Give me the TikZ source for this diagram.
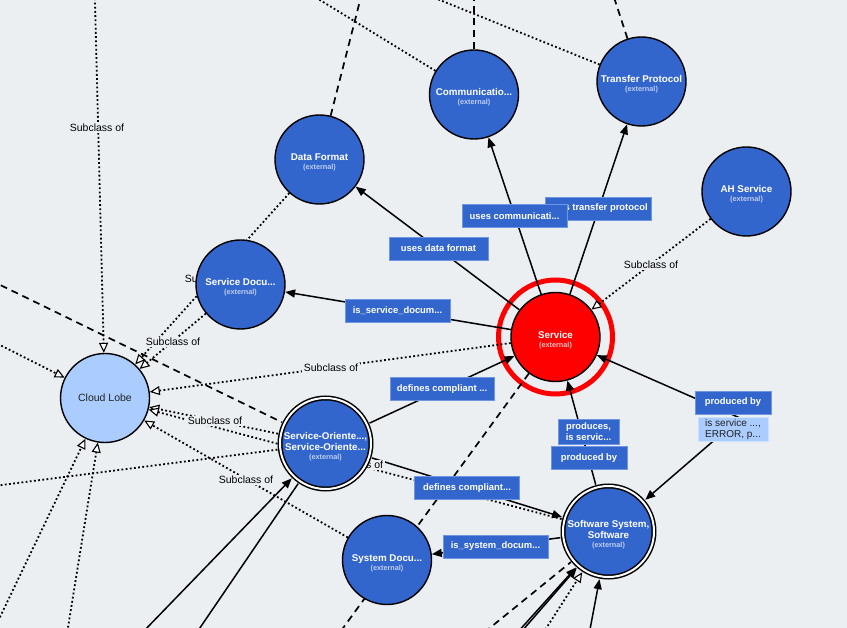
\documentclass[tikz,border=0pt]{standalone}
\usepackage{fontspec}
\setmainfont{Liberation Sans}
\usetikzlibrary{arrows.meta}

\definecolor{canvas}{RGB}{236,239,241}
\definecolor{nodeblue}{RGB}{51,102,204}
\definecolor{lobeblue}{RGB}{170,204,255}
\definecolor{tagedge}{RGB}{110,150,225}
\definecolor{extblue}{RGB}{190,205,240}
\definecolor{extred}{RGB}{255,190,190}
\definecolor{ink}{RGB}{34,34,34}

\newcommand{\nmfont}{\fontsize{9.8}{12}\selectfont\bfseries}
\newcommand{\lobefont}{\fontsize{10.5}{12}\selectfont}
\newcommand{\exfont}{\fontsize{7.3}{9}\selectfont\bfseries}
\newcommand{\tgfont}{\fontsize{9.4}{11}\selectfont\bfseries}
\newcommand{\scfont}{\fontsize{10.5}{12}\selectfont}
% pushes a node's text block slightly down inside its circle
\newcommand{\lowr}{\rule{0pt}{12.6pt}}
\newcommand{\ext}[1][extblue]{\\[-3pt]{\exfont\color{#1}(external)}}

\pgfdeclarelayer{back}
\pgfdeclarelayer{links}
\pgfdeclarelayer{tags}
\pgfsetlayers{back,links,tags,main}

\tikzset{
  classnode/.style={circle, draw=black, line width=1.4pt, fill=nodeblue,
    minimum size=89pt, inner sep=0pt, text=white, align=center, font=\nmfont},
  dclass/.style={classnode, line width=1.5pt, double=white, double distance=2pt,
    minimum size=91pt, outer sep=3pt},
  lobe/.style={classnode, fill=lobeblue, text=ink, font=\lobefont},
  focus/.style={classnode, fill=red},
  focusring/.style={draw=red, line width=5pt},
  relline/.style={draw=black, line width=1.5pt},
  subline/.style={draw=black, line width=1.8pt, dash pattern=on 1.8pt off 2.4pt},
  dashline/.style={draw=black, line width=1.7pt, dash pattern=on 7pt off 5pt},
  arrowend/.style={-{Triangle[length=10pt,width=8pt]}},
  bothends/.style={{Triangle[length=10pt,width=8pt]}-{Triangle[length=10pt,width=8pt]}},
  openend/.style={-{Triangle[length=10pt,width=9pt,fill=white,line width=1.1pt]}},
  tag/.style={fill=nodeblue, draw=tagedge, line width=0.8pt, text=white,
    font=\tgfont, align=center, inner xsep=2pt, inner ysep=0pt,
    minimum height=23pt, minimum width=#1},
  tag/.default=76pt,
  softtag/.style={tag=#1, fill=lobeblue, draw=lobeblue!60!white, text=ink,
    font=\fontsize{10}{11}\selectfont, minimum height=24pt},
  sublabel/.style={fill=canvas, text=black, font=\scfont, inner xsep=2pt, inner ysep=1pt},
}

\begin{document}
\begin{tikzpicture}[x=1pt, y=-1pt]
\useasboundingbox (0,0) rectangle (847,628);

% ---------- classes ----------
\node[focus]     (S)   at (555.5,337)   {\lowr Service\ext[extred]};
\node[classnode] (COM) at (474,94.5)    {\lowr Communicatio...\ext};
\node[classnode] (TP)  at (641.5,81.5)  {\lowr Transfer Protocol\ext};
\node[classnode] (AH)  at (746.5,191.5) {\lowr AH Service\ext};
\node[classnode] (DF)  at (319.5,159.5) {\lowr Data Format\ext};
\node[classnode] (SD)  at (240.5,284.5) {\lowr Service Docu...\ext};
\node[lobe]      (CL)  at (105,398)     {Cloud Lobe};
\node[dclass]    (SO)  at (325.5,443.5) {\lowr Service-Oriente...,\\[-1pt]Service-Oriente...\ext};
\node[classnode] (SYD) at (387,560)     {\lowr System Docu...\ext};
\node[dclass]    (SW)  at (608.5,531.5) {\lowr Software System,\\[-1pt]Software\ext};

% ends of links that leave the canvas
\coordinate (topA)  at (94.7,-10);
\coordinate (topB)  at (303.6,-10);
\coordinate (topC)  at (415,-10);
\coordinate (topD)  at (362.7,-10);
\coordinate (topE)  at (474,-10);
\coordinate (topF)  at (611.6,-10);
\coordinate (leftA) at (-10,340);
\coordinate (leftB) at (-10,486.5);
\coordinate (leftC) at (-10,280);
\coordinate (lowA)  at (-11,640);
\coordinate (lowB)  at (66,640);
\coordinate (lowC)  at (334.3,640);
\coordinate (lowD)  at (475,640);
\coordinate (lowE)  at (538.6,640);
\coordinate (lowF)  at (510.6,640);
\coordinate (lowG)  at (514.2,640);
\coordinate (lowH)  at (588,640);
\coordinate (lowI)  at (135.2,640);
\coordinate (lowJ)  at (191.7,640);
\coordinate (bend)  at (740,418);

\begin{pgfonlayer}{back}
  \fill[canvas] (0,0) rectangle (847,628);
  \draw[focusring] (S.center) circle[radius=57pt];
\end{pgfonlayer}

\begin{pgfonlayer}{links}
  % subclass-of links
  \draw[subline, openend] (topA) -- (CL);
  \draw[subline, openend] (leftA) -- (CL);
  \draw[subline, openend] (DF) -- (CL);
  \draw[subline, openend] (SD) -- (CL);
  \draw[subline, openend] (S) -- (CL);
  \draw[subline, openend] (SO) -- (CL);
  \draw[subline, openend] (SW) -- (CL);
  \draw[subline, openend] (SYD) -- (CL);
  \draw[subline, openend] (lowA) -- (CL);
  \draw[subline, openend] (lowB) -- (CL);
  \draw[subline, openend] (AH) -- (S);
  \draw[subline, openend] (lowE) -- (SW);
  \draw[subline] (SO) -- (leftB);
  \draw[subline] (COM) -- (topB);
  \draw[subline] (TP) -- (topC);
  % dashed links
  \draw[dashline] (DF) -- (topD);
  \draw[dashline] (COM) -- (topE);
  \draw[dashline] (TP) -- (topF);
  \draw[dashline] (leftC) -- (SO);
  \draw[dashline] (S) -- (lowC);
  \draw[dashline] (lowD) -- (SW);
  % object properties
  \draw[relline, arrowend] (S) -- (DF);
  \draw[relline, arrowend] (S) -- (COM);
  \draw[relline, arrowend] (S) -- (TP);
  \draw[relline, arrowend] (S) -- (SD);
  \draw[relline, arrowend] (SO) -- (S);
  \draw[relline, arrowend] (SO) -- (SW);
  \draw[relline, arrowend] (SW) -- (SYD);
  \draw[relline, arrowend] (SW) -- (S);
  \draw[relline, bothends] (S) -- (bend) -- (SW);
  \draw[relline, arrowend] (lowF) -- (SW);
  \draw[relline, arrowend] (lowG) -- (SW);
  \draw[relline, arrowend] (lowH) -- (SW);
  \draw[relline, arrowend] (lowI) -- (SO);
  \draw[relline] (lowJ) -- (SO);
\end{pgfonlayer}

\begin{pgfonlayer}{tags}
  \node[tag=106pt] (tpTag)  at (598,208.5)   {uses transfer protocol};
  \node[tag=105pt] (comTag) at (514.5,216)   {uses communicati...};
  \node[tag=99pt]  (dfTag)  at (438.5,248.5) {uses data format};
  \node[tag=105pt] (sdTag)  at (397.5,310.5) {is\_service\_docum...};
  \node[tag=104pt] (dcA)    at (442,389)     {defines compliant ...};
  \node[tag=105pt] (dcB)    at (467,488)     {defines compliant...};
  \node[tag=61pt, minimum height=25pt] (pisTag) at (588.5,431.5) {produces,\\is servic...};
  \node[tag=76pt]  (pbA)    at (589,458)     {produced by};
  \node[tag=76pt]  (pbB)    at (733,402.5)   {produced by};
  \node[softtag=70pt] (errTag) at (733,429.5) {is service ...,\\ERROR, p...};
  \node[tag=105pt] (sysTag) at (495.5,546.5) {is\_system\_docum...};

  \node[sublabel] (scA) at (97,128)  {Subclass of};
  \node[sublabel] (scB) at (212,279) {Subclass of};
  \node[sublabel] (scC) at (173,342) {Subclass of};
  \node[sublabel] (scD) at (331,368) {Subclass of};
  \node[sublabel] (scE) at (215,421) {Subclass of};
  \node[sublabel] (scF) at (356,465) {Subclass of};
  \node[sublabel] (scG) at (246,480) {Subclass of};
  \node[sublabel] (scH) at (651,265) {Subclass of};
\end{pgfonlayer}
\end{tikzpicture}
\end{document}
